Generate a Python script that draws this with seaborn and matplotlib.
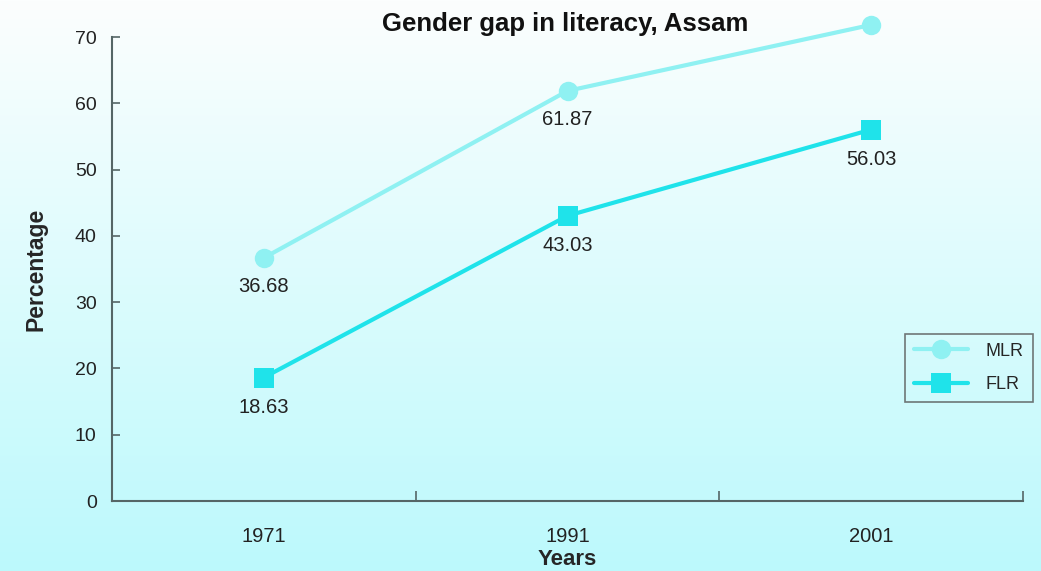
import numpy as np
import pandas as pd
import matplotlib
matplotlib.use("Agg")
import matplotlib.pyplot as plt
import seaborn as sns

years = ["1971", "1991", "2001"]
mlr = [36.68, 61.87, 71.83]
flr = [18.63, 43.03, 56.03]

sns.set_style("white")
plt.rcParams['font.family'] = ['Liberation Sans', 'DejaVu Sans']

W, H = 1041, 571
fig = plt.figure(figsize=(W / 100, H / 100), dpi=100)

# gradient background
bg = fig.add_axes([0, 0, 1, 1], zorder=-10)
top = np.array([252, 254, 254]) / 255
bot = np.array([188, 249, 252]) / 255
t = np.linspace(0, 1, 256)[:, None]
grad = top[None, :] * (1 - t) + bot[None, :] * t
bg.imshow(grad[:, None, :], aspect='auto', extent=[0, 1, 0, 1], origin='upper')
bg.set_axis_off()

ax = fig.add_axes([112 / W, 1 - 501 / H, (1023 - 112) / W, (501 - 37) / H])
ax.patch.set_alpha(0)

df = pd.DataFrame({
    "pos": list(range(len(years))) * 2,
    "value": mlr + flr,
    "series": ["MLR"] * len(years) + ["FLR"] * len(years),
})

mlr_color = "#8ff1f2"
flr_color = "#1fe3ea"
sns.lineplot(data=df, x="pos", y="value", hue="series", style="series",
             palette={"MLR": mlr_color, "FLR": flr_color},
             markers={"MLR": "o", "FLR": "s"}, dashes=False,
             markersize=14, linewidth=3, markeredgewidth=0, ax=ax, legend=True)
for ln in ax.lines:
    ln.set_clip_on(False)

for i, v in enumerate(mlr):
    ax.annotate(f"{v:.2f}", (i, v), xytext=(0, -29), textcoords="offset pixels",
                ha="center", va="center", fontsize=14.5, color="#222222")
for i, v in enumerate(flr):
    ax.annotate(f"{v:.2f}", (i, v), xytext=(0, -30), textcoords="offset pixels",
                ha="center", va="center", fontsize=14.5, color="#222222")

ax.set_xlim(-0.5, len(years) - 0.5)
ax.set_ylim(0, 70)
ax.set_yticks(range(0, 71, 10))
ax.set_xticks([i - 0.5 for i in range(len(years) + 1)])
ax.set_xticklabels([])
ax.set_xticks(range(len(years)), minor=True)
ax.set_xticklabels(years, minor=True)
ax.tick_params(axis='x', which='minor', bottom=True, length=0, pad=18.5, labelsize=14.5, colors="#222222")
ax.tick_params(axis='x', which='major', bottom=True, direction='in', length=7, width=1.2, color="#556666")
ax.tick_params(axis='y', left=True, direction='in', length=6, width=1.2, color="#556666",
               labelsize=14, labelcolor="#222222", pad=11)
for s in ["top", "right"]:
    ax.spines[s].set_visible(False)
for s in ["left", "bottom"]:
    ax.spines[s].set_color("#556666")
    ax.spines[s].set_linewidth(1.5)

ax.set_xlabel("Years", fontsize=16, fontweight="bold", labelpad=2.5)
ax.set_ylabel("Percentage", fontsize=16.5, fontweight="bold", labelpad=20)
fig.text(565 / W, 1 - 24 / H, "Gender gap in literacy, Assam", ha="center", va="center",
         fontsize=18.5, fontweight="bold", color="#111111")

leg = ax.legend(loc="lower right", bbox_to_anchor=((1033 - 112) / (1023 - 112), (501 - 402) / (501 - 37)),
                frameon=True, fancybox=False, fontsize=13, handlelength=3.0,
                borderpad=0.5, labelspacing=0.9, handletextpad=1.0, borderaxespad=0)
leg.get_frame().set_edgecolor("#555555")
leg.get_frame().set_linewidth(1.2)
leg.get_frame().set_facecolor("none")

fig.savefig("out.png", dpi=100)
